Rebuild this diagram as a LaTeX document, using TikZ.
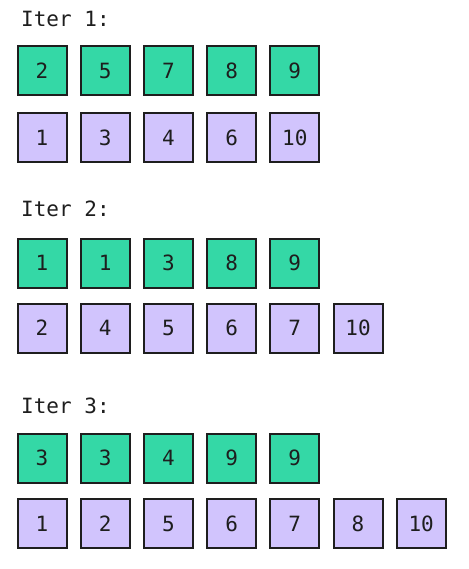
\documentclass[tikz,border=0pt]{standalone}
\usepackage{fontspec}
\setmonofont{DejaVu Sans Mono}
\definecolor{hicol}{HTML}{34D8A6}
\definecolor{locol}{HTML}{D1C4FD}
\definecolor{edgecol}{HTML}{1E1E1E}

\begin{document}
\begin{tikzpicture}[x=1pt, y=-1pt,
  cell/.style={draw=edgecol, line width=2pt, minimum size=49pt, inner sep=0pt, text=edgecol, font=\ttfamily\fontsize{21}{25}\selectfont},
  hi/.style={cell, fill=hicol},
  lo/.style={cell, fill=locol},
  iterlbl/.style={anchor=base west, inner sep=0pt, text=edgecol, font=\ttfamily\fontsize{21}{25}\selectfont}]
\useasboundingbox (0,0) rectangle (468,569);
\node[iterlbl] (it1) at (21,27) {Iter 1:};
\foreach \v [count=\i from 0] in {2,5,7,8,9} \node[hi] (a\i) at (42+63.2*\i,70.5) {\v};
\foreach \v [count=\i from 0] in {1,3,4,6,10} \node[lo] (b\i) at (42+63.2*\i,137.5) {\v};
\node[iterlbl] (it2) at (21,216) {Iter 2:};
\foreach \v [count=\i from 0] in {1,1,3,8,9} \node[hi] (c\i) at (42+63.2*\i,263) {\v};
\foreach \v [count=\i from 0] in {2,4,5,6,7,10} \node[lo] (d\i) at (42+63.2*\i,328) {\v};
\node[iterlbl] (it3) at (21,413) {Iter 3:};
\foreach \v [count=\i from 0] in {3,3,4,9,9} \node[hi] (e\i) at (42+63.2*\i,458) {\v};
\foreach \v [count=\i from 0] in {1,2,5,6,7,8,10} \node[lo] (f\i) at (42+63.2*\i,523.5) {\v};
\end{tikzpicture}
\end{document}
